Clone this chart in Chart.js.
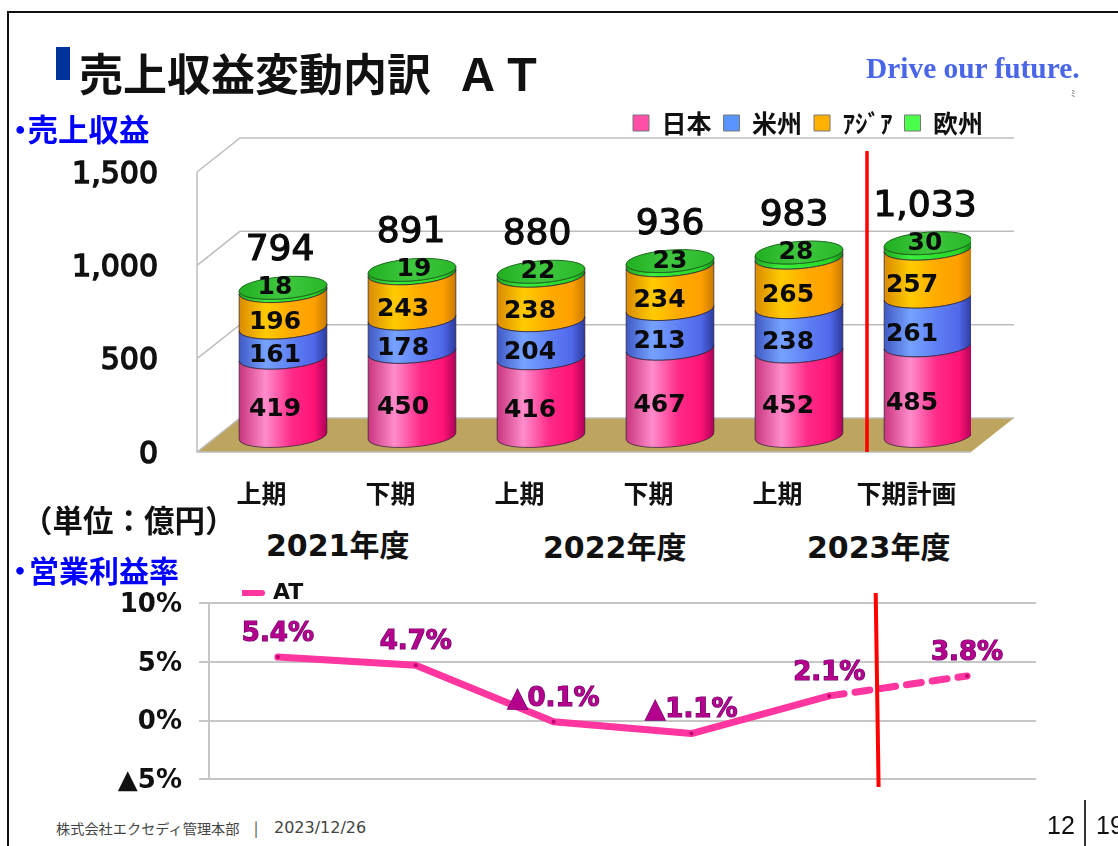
<!DOCTYPE html>
<html lang="ja">
<head>
<meta charset="utf-8">
<title>売上収益変動内訳 AT</title>
<script src="https://cdn.jsdelivr.net/npm/chart.js@4"></script>
<style>
html,body{margin:0;padding:0;background:#fff;width:1118px;height:846px;overflow:hidden}
canvas{position:absolute;left:0;display:block}
.t{position:absolute;white-space:pre;line-height:1;font-family:"Noto Sans CJK JP",sans-serif;font-weight:700;color:#111}
.b{color:#0000ff;font-size:30.5px}
.y{font-family:"DejaVu Sans","Noto Sans CJK JP",sans-serif;font-size:30px}
</style>
</head>
<body>
<div style="position:absolute;left:7px;top:11px;width:1200px;height:900px;border:2px solid #111;box-sizing:border-box"></div>
<div style="position:absolute;left:56px;top:47px;width:14px;height:33px;background:#003399"></div>
<canvas id="salesChart" width="1118" height="520" style="top:0"></canvas>
<canvas id="marginChart" width="1118" height="242" style="top:570px"></canvas>
<div class="t" style="left:79px;top:50px;font-size:44px;word-spacing:2.5px">売上収益変動内訳  ＡＴ</div>
<div class="t" style="left:866px;top:54px;font-family:'Liberation Serif',serif;font-size:29.4px;color:#4a66e8">Drive our future.</div>
<div class="t" style="left:1071px;top:89px;font-size:9px;font-weight:400;color:#555">ﾐ</div>
<div class="t b" style="left:5px;top:113px"><span style="letter-spacing:-8px">・</span>売上収益</div>
<div class="t" style="left:22px;top:504px;font-size:30.5px">（単位：億円）</div>
<div class="t y" style="left:266px;top:531px">2021年度</div>
<div class="t y" style="left:543px;top:533px">2022年度</div>
<div class="t y" style="left:807px;top:533px">2023年度</div>
<div class="t b" style="left:5px;top:554px;font-size:30px"><span style="letter-spacing:-6px">・</span>営業利益率</div>
<div class="t" style="left:56px;top:821px;font-size:14.2px;font-weight:400;color:#444">株式会社エクセディ管理本部</div>
<div class="t" style="left:254px;top:820px;font-size:15px;font-weight:400;color:#444">|</div>
<div class="t" style="left:274px;top:820px;font-family:'DejaVu Sans',sans-serif;font-size:16px;font-weight:400;color:#444">2023/12/26</div>
<div class="t" style="left:1047px;top:813px;font-family:'Liberation Sans',sans-serif;font-size:25px;font-weight:400">12</div>
<div style="position:absolute;left:1084px;top:800px;width:1.5px;height:46px;background:#333"></div>
<div class="t" style="left:1096px;top:813px;font-family:'Liberation Sans',sans-serif;font-size:25px;font-weight:400">19</div>
<script>
// ---- data ----
const periods = ['上期','下期','上期','下期','上期','下期計画'];
const japan   = [419,450,416,467,452,485];
const america = [161,178,204,213,238,261];
const asia    = [196,243,238,234,265,257];
const europe  = [18,19,22,23,28,30];
const totals  = [794,891,880,936,983,1033];
const salesTicks = [0,500,1000,1500];
const marginPeriods = ['上期','下期','上期','下期','上期','下期計画'];
const atMargin = [5.4,4.7,-0.1,-1.1,2.1,3.8];

// ---- styles ----
const JP = '"Noto Sans CJK JP",sans-serif';
const LATIN = '"DejaVu Sans","Noto Sans CJK JP",sans-serif';
const COL = {pink:'#ff4fa6',blue:'#5a95ff',orange:'#ffb000',green:'#4cff4c'};
const RAMP = {
  [COL.pink]:['#c8357e','#ff8ccb','#ff2a88','#ff1476','#b0005a'],
  [COL.blue]:['#3f59c4','#76a2ff','#5f7ff4','#5068ea','#2c3a9c'],
  [COL.orange]:['#d98a00','#ffcb00','#ffaa00','#ffa000','#c87a00'],
  [COL.green]:['#1fa81f','#3cf03c','#2ee02e','#28d828','#128c12']
};
const CYL = {dx:21.5,dy:-16,ry:11,tilt:-4.5*Math.PI/180};
const WALL = {dx:43,dy:-34,color:'#bdbdbd'};
const LINE_PINK = '#ff35a0';

function ramp(ctx,x,r,stops){
  const g=ctx.createLinearGradient(x-r,0,x+r,0);
  [0,.3,.6,.85,1].forEach((p,i)=>g.addColorStop(p,stops[i]));
  return g;
}
// Every stacked bar keeps its scale-derived x / y / base / width; only its outline becomes a cylinder.
Chart.BarElement.prototype.draw = function(ctx){
  const {x,y,base,width}=this.getProps(['x','y','base','width'],true);
  const r=width/2, cx=x+CYL.dx, top=y+CYL.dy, bot=base+CYL.dy, c=this.options.backgroundColor;
  ctx.save();
  ctx.beginPath();
  ctx.ellipse(cx,bot,r,CYL.ry,CYL.tilt,0,Math.PI,false);
  ctx.ellipse(cx,top,r,CYL.ry,CYL.tilt,Math.PI,0,true);
  ctx.closePath();
  ctx.fillStyle=ramp(ctx,cx,r,RAMP[c]);
  ctx.fill();
  ctx.lineWidth=1;
  ctx.strokeStyle='rgba(40,30,50,.7)';
  ctx.stroke();
  if(c===COL.green){
    ctx.beginPath();
    ctx.ellipse(cx,top,r,CYL.ry,CYL.tilt,0,Math.PI*2);
    const g=ctx.createLinearGradient(cx-r,0,cx+r,0);
    g.addColorStop(0,'#20b020');g.addColorStop(.5,'#3fc83f');g.addColorStop(1,'#28b828');
    ctx.fillStyle=g;ctx.fill();
    ctx.strokeStyle='#1c6a1c';ctx.stroke();
  }
  ctx.restore();
};

const room = {
  id:'room',
  afterLayout(chart){
    const l=chart.legend;
    l.left=621;l.right=1100;l.top=98.5;l.bottom=146;
  },
  beforeDatasetsDraw(chart){
    const {ctx,chartArea:a,scales:{y}}=chart;
    ctx.save();
    ctx.beginPath();
    ctx.moveTo(a.left,a.bottom);
    ctx.lineTo(a.left+WALL.dx,a.bottom+WALL.dy);
    ctx.lineTo(a.right+WALL.dx,a.bottom+WALL.dy);
    ctx.lineTo(a.right,a.bottom);
    ctx.closePath();
    ctx.fillStyle='#bda55f';ctx.fill();
    ctx.strokeStyle=WALL.color;ctx.lineWidth=1.5;
    salesTicks.forEach(v=>{
      const p=y.getPixelForValue(v);
      ctx.beginPath();
      ctx.moveTo(a.left,p);
      ctx.lineTo(a.left+WALL.dx,p+WALL.dy);
      ctx.lineTo(a.right+WALL.dx,p+WALL.dy);
      ctx.stroke();
    });
    ctx.beginPath();
    ctx.moveTo(a.left,a.top);ctx.lineTo(a.left,a.bottom);ctx.lineTo(a.right,a.bottom);
    ctx.stroke();
    ctx.restore();
  },
  afterDatasetsDraw(chart){
    const {ctx,chartArea:a,scales:{x,y}}=chart;
    ctx.save();
    ctx.textAlign='center';ctx.textBaseline='middle';ctx.fillStyle='#0a0a0a';
    const shiftX=[-8,-9,-11,-10.5,-11,-16], topShiftX=[-8,2,-3,0,-3,-3], totalShiftX=[-3,-1,-4,0,-5,-3];
    chart.data.datasets.forEach((ds,di)=>{
      chart.getDatasetMeta(di).data.forEach((bar,i)=>{
        const isTop=di===chart.data.datasets.length-1;
        const mid=(bar.y+bar.base)/2+CYL.dy;
        const tx=bar.x+CYL.dx+(isTop?topShiftX[i]:shiftX[i]);
        const ty=isTop?bar.y+CYL.dy:mid+13;
        ctx.font='bold 25px '+LATIN;
        ctx.fillText(ds.data[i],tx,ty);
      });
    });
    totals.forEach((t,i)=>{
      const tx=x.getPixelForValue(i)+CYL.dx+totalShiftX[i];
      const ty=y.getPixelForValue(t)+CYL.dy-37;
      ctx.font='36px '+LATIN;
      ctx.lineWidth=1.2;ctx.strokeStyle='#0a0a0a';
      const s=t.toLocaleString('en-US');
      ctx.strokeText(s,tx,ty);ctx.fillText(s,tx,ty);
    });
    const rx=(x.getPixelForValue(4)+x.getPixelForValue(5))/2+25;
    ctx.strokeStyle='#ff0000';ctx.lineWidth=3.5;
    ctx.beginPath();ctx.moveTo(rx,a.top-21);ctx.lineTo(rx,a.bottom);ctx.stroke();
    ctx.restore();
  }
};

new Chart(document.getElementById('salesChart'),{
  type:'bar',
  plugins:[room],
  data:{labels:periods,datasets:[
    {label:'日本',data:japan,backgroundColor:COL.pink,borderColor:'#777',borderWidth:1},
    {label:'米州',data:america,backgroundColor:COL.blue,borderColor:'#777',borderWidth:1},
    {label:'ｱｼﾞｱ',data:asia,backgroundColor:COL.orange,borderColor:'#777',borderWidth:1},
    {label:'欧州',data:europe,backgroundColor:COL.green,borderColor:'#777',borderWidth:1}
  ]},
  options:{
    responsive:false,animation:false,devicePixelRatio:1,
    layout:{padding:{top:125,right:147,left:0,bottom:0}},
    datasets:{bar:{categoryPercentage:1,barPercentage:.682}},
    plugins:{
      tooltip:{enabled:false},
      legend:{position:'top',align:'start',
        labels:{boxWidth:16,boxHeight:16,padding:12,color:'#111',font:{family:JP,size:25,weight:'bold'}}}
    },
    scales:{
      x:{stacked:true,grid:{display:false},border:{display:false},
        afterFit(s){s.height=68;},
        ticks:{color:'#111',padding:18,font:{family:JP,size:25,weight:'bold'},maxRotation:0,autoSkip:false}},
      y:{stacked:true,min:0,max:1500,grid:{display:false,drawTicks:false},border:{display:false},
        afterFit(s){s.width=197;},
        afterBuildTicks(s){s.ticks=salesTicks.map(v=>({value:v}));},
        ticks:{color:'#111',padding:39,labelOffset:3,textStrokeColor:'#111',textStrokeWidth:1.6,
          font:{family:LATIN,size:30},callback:v=>Number(v).toLocaleString('en-US')}}
    }
  }
});

const marginDeco = {
  id:'marginDeco',
  afterLayout(chart){
    const l=chart.legend;
    l.left=242;l.right=400;l.top=12;l.bottom=35;
  },
  afterDatasetsDraw(chart){
    const {ctx}=chart, ds=chart.data.datasets[0], meta=chart.getDatasetMeta(0);
    ctx.save();
    ctx.textAlign='center';ctx.textBaseline='middle';
    ctx.font='bold 26px '+LATIN;
    ctx.lineWidth=1.2;ctx.strokeStyle='#5c0060';ctx.fillStyle='#b4008c';
    meta.data.forEach((pt,i)=>{
      const v=ds.data[i];
      const s=(v<0?'▲':'')+Math.abs(v).toFixed(1)+'%';
      ctx.strokeText(s,pt.x,pt.y-23);
      ctx.fillText(s,pt.x,pt.y-23);
    });
    ctx.strokeStyle='#ff0000';ctx.lineWidth=4;
    ctx.beginPath();ctx.moveTo(875.7,23);ctx.lineTo(878.6,217);ctx.stroke();
    ctx.restore();
  }
};

new Chart(document.getElementById('marginChart'),{
  type:'line',
  plugins:[marginDeco],
  data:{labels:marginPeriods,datasets:[{
    label:'AT',data:atMargin,borderColor:LINE_PINK,backgroundColor:LINE_PINK,borderWidth:7,
    borderCapStyle:'round',borderJoinStyle:'round',tension:0,
    pointRadius:2,pointBackgroundColor:'#c0006f',pointBorderWidth:0,
    segment:{borderDash:c=>c.p0DataIndex===4?[15,11]:undefined}
  }]},
  options:{
    responsive:false,animation:false,devicePixelRatio:1,
    layout:{padding:{top:1,right:82,left:0,bottom:9}},
    plugins:{
      tooltip:{enabled:false},
      legend:{position:'top',align:'start',
        labels:{usePointStyle:true,pointStyle:'line',pointStyleWidth:20,padding:0,color:'#111',
          font:{family:LATIN,size:22,weight:'bold'},
          generateLabels(chart){
            const items=Chart.defaults.plugins.legend.labels.generateLabels(chart);
            items.forEach(it=>{it.lineWidth=6;it.strokeStyle=LINE_PINK;it.lineCap='round';});
            return items;
          }}}
    },
    scales:{
      x:{display:false,offset:true},
      y:{min:-5,max:10,
        grid:{color:'#c6c6c6',lineWidth:2,tickLength:10},
        border:{display:true,color:'#c6c6c6',width:2},
        afterFit(s){s.width=209;},
        ticks:{stepSize:5,color:'#111',padding:17,labelOffset:2,font:{family:LATIN,size:26,weight:'bold'},
          callback:v=>(v<0?'▲':'')+Math.abs(v)+'%'}}
    }
  }
});
</script>
</body>
</html>
